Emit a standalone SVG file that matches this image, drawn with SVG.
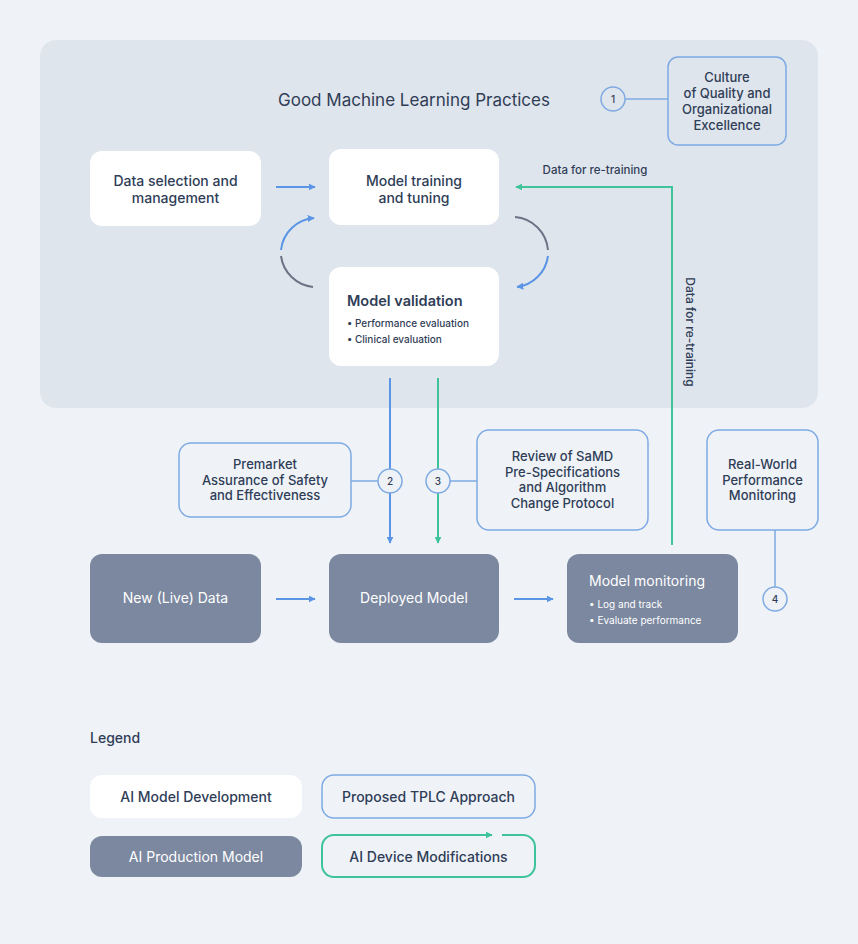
<svg xmlns="http://www.w3.org/2000/svg" width="858" height="944" viewBox="0 0 858 944">
<defs>
<marker id="ab" viewBox="0 0 10 10" refX="9" refY="5" markerWidth="7" markerHeight="7" markerUnits="userSpaceOnUse" orient="auto"><path d="M0,0 L10,5 L0,10 z" fill="#5b95e5"/></marker>
<marker id="ag" viewBox="0 0 10 10" refX="9" refY="5" markerWidth="7" markerHeight="7" markerUnits="userSpaceOnUse" orient="auto"><path d="M0,0 L10,5 L0,10 z" fill="#3ec39a"/></marker>
<style>
text{font-family:Inter,"Noto Sans","Liberation Sans",sans-serif;fill:#2f3d57;font-weight:500}
.w{fill:#ffffff;font-weight:400}
.lt{font-weight:400}
.bd{font-weight:600}
.dev{fill:#ffffff}
.prod{fill:#7b889f}
.tplc{fill:none;stroke:#7eaae3;stroke-width:1.5}
.cir{fill:#eef2f7;stroke:#7eaae3;stroke-width:1.5}
.cirp{fill:#dfe5ec;stroke:#7eaae3;stroke-width:1.5}
.bl{stroke:#5b95e5;stroke-width:2;fill:none}
.gr{stroke:#3ec39a;stroke-width:2;fill:none}
.gy{stroke:#6b7385;stroke-width:2;fill:none}
.lk{stroke:#7eaae3;stroke-width:1.5;fill:none}
.t14{font-size:14px}
.t13{font-size:13px}
.c{text-anchor:middle}
</style>
</defs>
<rect width="858" height="944" fill="#eff3f7"/>
<g id="gmlp-panel">
<rect x="40" y="40" width="778" height="368" rx="16" fill="#dfe5ec"/>
<text x="414" y="106" class="c lt" font-size="17">Good Machine Learning Practices</text>
</g>
<g id="connectors">
<line x1="276" y1="187" x2="315" y2="187" class="bl" marker-end="url(#ab)"/>
<path d="M672,545 L672,187 L516,187" class="gr" marker-end="url(#ag)"/>
<path d="M281,250 A36,36 0 0 1 314,218" class="bl" marker-end="url(#ab)"/>
<path d="M281,256 A36,36 0 0 0 313,287" class="gy"/>
<path d="M515,217 A36,36 0 0 1 548,250" class="gy"/>
<path d="M548,256 A36,36 0 0 1 517,287" class="bl" marker-end="url(#ab)"/>
<line x1="390" y1="378" x2="390" y2="543" class="bl" marker-end="url(#ab)"/>
<line x1="438" y1="378" x2="438" y2="543" class="gr" marker-end="url(#ag)"/>
<line x1="625" y1="99" x2="668" y2="99" class="lk"/>
<line x1="351" y1="481" x2="378" y2="481" class="lk"/>
<line x1="450" y1="481" x2="477" y2="481" class="lk"/>
<line x1="775" y1="530" x2="775" y2="587" class="lk"/>
<line x1="276" y1="599" x2="315" y2="599" class="bl" marker-end="url(#ab)"/>
<line x1="514" y1="599" x2="553" y2="599" class="bl" marker-end="url(#ab)"/>
<text x="595" y="174" class="c" font-size="11.5">Data for re-training</text>
<text transform="translate(686,332) rotate(90)" class="c" font-size="12">Data for re-training</text>
</g>
<g id="circle1"><circle cx="613" cy="99" r="12" class="cirp"/><text x="613" y="103" class="c" font-size="10">1</text></g>
<g id="culture">
<rect x="668" y="57" width="118" height="88" rx="10" class="tplc"/>
<text class="c t13" x="727" y="82">Culture</text>
<text class="c t13" x="727" y="98">of Quality and</text>
<text class="c t13" x="727" y="114">Organizational</text>
<text class="c t13" x="727" y="130">Excellence</text>
</g>
<g id="data-selection">
<rect x="90" y="151" width="171" height="75" rx="12" class="dev"/>
<text class="c t14" x="175.5" y="186">Data selection and</text>
<text class="c t14" x="175.5" y="203">management</text>
</g>
<g id="model-training">
<rect x="329" y="149" width="170" height="76" rx="12" class="dev"/>
<text class="c t14" x="414" y="186">Model training</text>
<text class="c t14" x="414" y="203">and tuning</text>
</g>
<g id="model-validation">
<rect x="329" y="267" width="170" height="99" rx="12" class="dev"/>
<text x="347" y="306" font-size="14.5" class="bd">Model validation</text>
<text x="347" y="327" font-size="10">• Performance evaluation</text>
<text x="347" y="343" font-size="10">• Clinical evaluation</text>
</g>
<g id="circle2"><circle cx="390" cy="481" r="12" class="cir"/><text x="390" y="485" class="c" font-size="10">2</text></g>
<g id="circle3"><circle cx="438" cy="481" r="12" class="cir"/><text x="438" y="485" class="c" font-size="10">3</text></g>
<g id="premarket">
<rect x="179" y="443" width="172" height="74" rx="12" class="tplc"/>
<text class="c t13" x="265" y="469">Premarket</text>
<text class="c t13" x="265" y="485">Assurance of Safety</text>
<text class="c t13" x="265" y="500">and Effectiveness</text>
</g>
<g id="review">
<rect x="477" y="430" width="171" height="100" rx="12" class="tplc"/>
<text class="c t13" x="562.5" y="461">Review of SaMD</text>
<text class="c t13" x="562.5" y="477">Pre-Specifications</text>
<text class="c t13" x="562.5" y="492">and Algorithm</text>
<text class="c t13" x="562.5" y="508">Change Protocol</text>
</g>
<g id="real-world">
<rect x="707" y="430" width="111" height="100" rx="12" class="tplc"/>
<text class="c t13" x="762.5" y="469">Real-World</text>
<text class="c t13" x="762.5" y="485">Performance</text>
<text class="c t13" x="762.5" y="500">Monitoring</text>
</g>
<g id="circle4"><circle cx="775" cy="599" r="12" class="cir"/><text x="775" y="603" class="c" font-size="10">4</text></g>
<g id="new-data">
<rect x="90" y="554" width="171" height="89" rx="12" class="prod"/>
<text class="c t14 w" x="175.5" y="603">New (Live) Data</text>
</g>
<g id="deployed-model">
<rect x="329" y="554" width="170" height="89" rx="12" class="prod"/>
<text class="c t14 w" x="414" y="603">Deployed Model</text>
</g>
<g id="model-monitoring">
<rect x="567" y="554" width="171" height="89" rx="12" class="prod"/>
<text class="t14 w" x="589" y="586">Model monitoring</text>
<text class="w" x="589" y="608" font-size="10">• Log and track</text>
<text class="w" x="589" y="624" font-size="10">• Evaluate performance</text>
</g>
<g id="legend">
<text x="90" y="743" font-size="14">Legend</text>
<g id="legend-dev"><rect x="90" y="775" width="212" height="43" rx="12" class="dev"/><text class="c t14" x="196" y="802">AI Model Development</text></g>
<g id="legend-tplc"><rect x="322" y="775" width="213" height="43" rx="12" class="tplc"/><text class="c t14" x="428.5" y="802">Proposed TPLC Approach</text></g>
<g id="legend-prod"><rect x="90" y="836" width="212" height="41" rx="12" class="prod"/><text class="c t14 w" x="196" y="862">AI Production Model</text></g>
<g id="legend-mod">
<path d="M502,835 L523,835 A12,12 0 0 1 535,847 L535,865 A12,12 0 0 1 523,877 L334,877 A12,12 0 0 1 322,865 L322,847 A12,12 0 0 1 334,835 L492,835" class="gr" stroke-width="1.8" marker-end="url(#ag)"/>
<text class="c t14" x="428.5" y="862">AI Device Modifications</text>
</g>
</g>
</svg>
